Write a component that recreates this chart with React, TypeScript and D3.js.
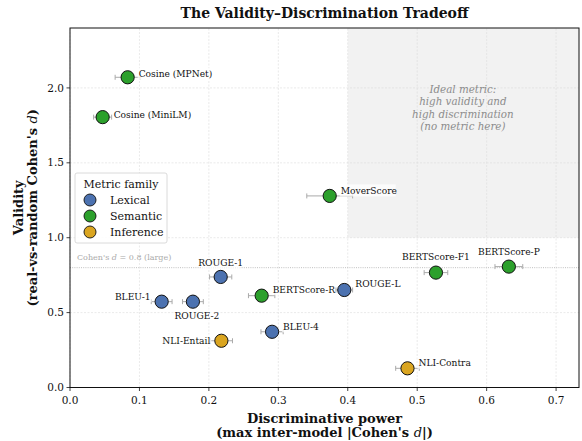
import * as d3 from "d3";

const metrics = ["Cosine (MPNet)", "Cosine (MiniLM)", "MoverScore", "ROUGE-1", "BLEU-1", "ROUGE-2", "BERTScore-R", "ROUGE-L", "BLEU-4", "NLI-Entail", "BERTScore-F1", "BERTScore-P", "NLI-Contra"];
const families = ["Semantic", "Semantic", "Semantic", "Lexical", "Lexical", "Lexical", "Semantic", "Lexical", "Lexical", "Inference", "Semantic", "Semantic", "Inference"];
const discrimination = [0.083, 0.047, 0.374, 0.217, 0.132, 0.177, 0.276, 0.395, 0.291, 0.218, 0.527, 0.632, 0.486];
const discErr = [0.018, 0.013, 0.033, 0.016, 0.015, 0.015, 0.019, 0.012, 0.016, 0.016, 0.017, 0.02, 0.017];
const validity = [2.071, 1.805, 1.279, 0.738, 0.573, 0.573, 0.613, 0.651, 0.372, 0.312, 0.767, 0.807, 0.128];

const familyNames = ["Lexical", "Semantic", "Inference"];
const familyColors = ["#4c72b0", "#2ca02c", "#daa520"];
const xTicks = [0, 0.1, 0.2, 0.3, 0.4, 0.5, 0.6, 0.7];
const yTicks = [0, 0.5, 1.0, 1.5, 2.0];

// label placement: [dx, dy, anchor]
const labelPos: [number, number, string][] = [
  [11, -3, "start"],
  [11, -2, "start"],
  [11, -5, "start"],
  [0, -14, "middle"],
  [-11, -5, "end"],
  [4, 14, "middle"],
  [11, -6, "start"],
  [11, -6, "start"],
  [11, -5, "start"],
  [-11, 0, "end"],
  [0, -16, "middle"],
  [0, -15, "middle"],
  [11, -5, "start"],
];

const W = 582;
const H = 441;
const m = { left: 70, right: 3, top: 28, bottom: 53.5 };
const font = "DejaVu Serif";

export default function App() {
  const x = d3.scaleLinear().domain([0, 0.733]).range([m.left, W - m.right]);
  const y = d3.scaleLinear().domain([0, 2.4]).range([H - m.bottom, m.top]);
  const color = d3.scaleOrdinal<string, string>().domain(familyNames).range(familyColors);
  const [x0, x1] = x.range();
  const [y0, y1] = y.range();
  const ideal = (x(0.4) + x1) / 2 - 0.5;

  return (
    <svg width={W} height={H} style={{ position: "absolute", left: 0, top: 0 }} fontFamily={font}>
      <rect x={0} y={0} width={W} height={H} fill="white" />
      {/* ideal region */}
      <rect x={x(0.4)} y={y1} width={x1 - x(0.4)} height={y(1.0) - y1} fill="#f2f2f2" />
      {/* grid */}
      {xTicks.map((t) => (
        <line key={"gx" + t} x1={x(t)} x2={x(t)} y1={y0} y2={y1} stroke="#dcdcdc" strokeWidth={0.6} strokeDasharray="2,1.5" />
      ))}
      {yTicks.map((t) => (
        <line key={"gy" + t} x1={x0} x2={x1} y1={y(t)} y2={y(t)} stroke="#dcdcdc" strokeWidth={0.6} strokeDasharray="2,1.5" />
      ))}
      {/* reference line */}
      <line x1={x0} x2={x1} y1={y(0.8)} y2={y(0.8)} stroke="#b0b0b0" strokeWidth={0.8} strokeDasharray="1,1.2" />
      <text x={x0 + 7} y={y(0.8) - 8} fontSize={8} fill="#aaaaaa">
        Cohen's <tspan fontStyle="italic">d</tspan> = 0.8 (large)
      </text>
      <text x={ideal} y={y1 + 65} fontSize={10.3} fill="#8c8c8c" fontStyle="italic" textAnchor="middle">
        {["Ideal metric:", "high validity and", "high discrimination", "(no metric here)"].map((s, i) => (
          <tspan key={i} x={ideal} dy={i === 0 ? 0 : 12.4}>{s}</tspan>
        ))}
      </text>
      {/* error bars */}
      {metrics.map((name, i) => {
        const cy = y(validity[i]);
        const a = x(discrimination[i] - discErr[i]);
        const b = x(discrimination[i] + discErr[i]);
        return (
          <g key={"e" + name} stroke="#aaaaaa" strokeWidth={1}>
            <line x1={a} x2={b} y1={cy} y2={cy} />
            <line x1={a} x2={a} y1={cy - 2.5} y2={cy + 2.5} />
            <line x1={b} x2={b} y1={cy - 2.5} y2={cy + 2.5} />
          </g>
        );
      })}
      {/* labels */}
      {metrics.map((name, i) => {
        const [dx, dy, anchor] = labelPos[i];
        const tx = x(discrimination[i]) + dx;
        const ty = y(validity[i]) + dy;
        const w = name.length * 5.4;
        const rx = anchor === "start" ? tx - 1 : anchor === "end" ? tx - w - 1 : tx - w / 2 - 1;
        return (
          <g key={"l" + name}>
            <rect x={rx} y={ty - 6.5} width={w + 2} height={12} fill="white" opacity={0.75} />
            <text x={tx} y={ty} dy="0.33em" fontSize={9.1} textAnchor={anchor} fill="#111">{name}</text>
          </g>
        );
      })}
      {/* points */}
      {metrics.map((name, i) => (
        <circle key={"p" + name} cx={x(discrimination[i])} cy={y(validity[i])} r={6.6} fill={color(families[i])} stroke="#111" strokeWidth={1} />
      ))}
      {/* spines */}
      <rect x={x0} y={y1} width={x1 - x0} height={y0 - y1} fill="none" stroke="#111" strokeWidth={1} />
      {/* ticks */}
      {xTicks.map((t) => (
        <g key={"tx" + t}>
          <line x1={x(t)} x2={x(t)} y1={y0} y2={y0 + 3.5} stroke="#111" strokeWidth={0.8} />
          <text x={x(t)} y={y0 + 16} fontSize={10.5} textAnchor="middle" fill="#111">{t.toFixed(1)}</text>
        </g>
      ))}
      {yTicks.map((t) => (
        <g key={"ty" + t}>
          <line x1={x0 - 3.5} x2={x0} y1={y(t)} y2={y(t)} stroke="#111" strokeWidth={0.8} />
          <text x={x0 - 6} y={y(t)} dy="0.35em" fontSize={10.5} textAnchor="end" fill="#111">{t.toFixed(1)}</text>
        </g>
      ))}
      {/* axis labels */}
      <text x={(x0 + x1) / 2} y={422.5} fontSize={13} fontWeight="bold" textAnchor="middle" fill="#111">Discriminative power</text>
      <text x={(x0 + x1) / 2} y={436.5} fontSize={13} fontWeight="bold" textAnchor="middle" fill="#111">
        (max inter-model |Cohen's <tspan fontStyle="italic" fontWeight="normal">d</tspan>|)
      </text>
      <g transform={`translate(22.5, ${(y0 + y1) / 2}) rotate(-90)`}>
        <text x={0} y={0} fontSize={13} fontWeight="bold" textAnchor="middle" fill="#111">Validity</text>
        <text x={0} y={14} fontSize={13} fontWeight="bold" textAnchor="middle" fill="#111">
          (real-vs-random Cohen's <tspan fontStyle="italic" fontWeight="normal">d</tspan>)
        </text>
      </g>
      {/* title */}
      <text x={(x0 + x1) / 2} y={18} fontSize={14} fontWeight="bold" textAnchor="middle" fill="#111">
        The Validity–Discrimination Tradeoff
      </text>
      {/* legend */}
      <g>
        <rect x={75} y={173} width={92} height={70} rx={2} fill="white" fillOpacity={0.85} stroke="#d0d0d0" strokeWidth={0.8} />
        <text x={121} y={184} dy="0.35em" fontSize={11} textAnchor="middle" fill="#111">Metric family</text>
        {familyNames.map((f, i) => (
          <g key={f}>
            <circle cx={90} cy={200 + i * 16} r={6} fill={color(f)} stroke="#111" strokeWidth={0.9} />
            <text x={110} y={200 + i * 16} dy="0.35em" fontSize={11} fill="#111">{f}</text>
          </g>
        ))}
      </g>
    </svg>
  );
}
